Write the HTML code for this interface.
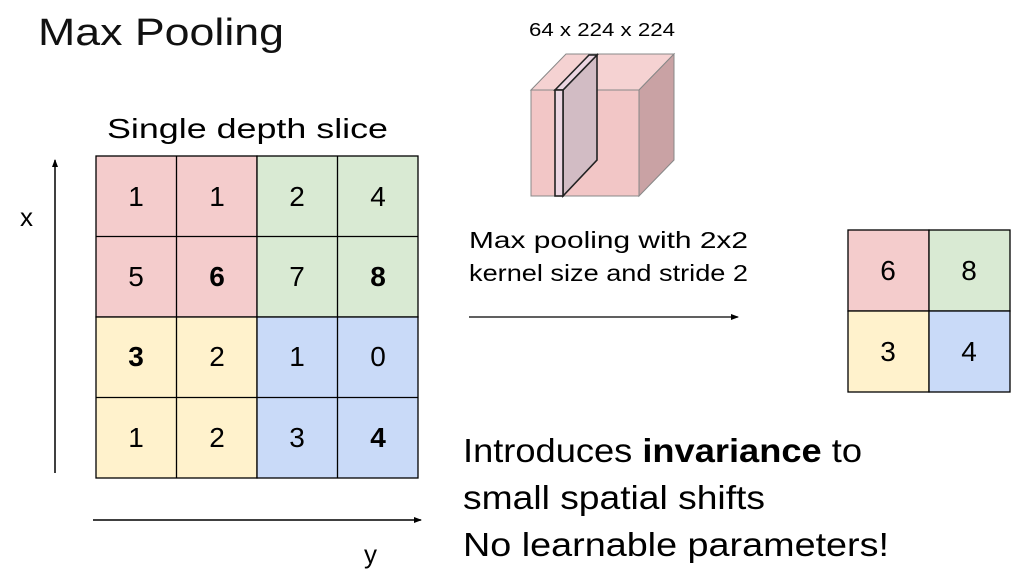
<!DOCTYPE html>
<html><head><meta charset="utf-8"><style>
html,body{margin:0;padding:0;background:#fff;}
svg{display:block;font-family:"Liberation Sans",sans-serif;}
</style></head><body>
<svg width="1026" height="579" viewBox="0 0 1026 579" xmlns="http://www.w3.org/2000/svg">
<defs><marker id="a" markerWidth="8" markerHeight="8" refX="7" refY="4" orient="auto" markerUnits="userSpaceOnUse"><path d="M0,1 L8,4 L0,7 z" fill="#000"/></marker></defs>
<text x="38" y="45" font-size="38" fill="#111" textLength="246" lengthAdjust="spacingAndGlyphs">Max Pooling</text>
<text x="107" y="138" font-size="28" textLength="281" lengthAdjust="spacingAndGlyphs">Single depth slice</text>
<text x="20" y="226" font-size="26">x</text>
<text x="364" y="563" font-size="26">y</text>
<g stroke="#000" stroke-width="1.3">
<rect x="96" y="156" width="161" height="161" fill="#f4cccc"/>
<rect x="257" y="156" width="161" height="161" fill="#d9ead3"/>
<rect x="96" y="317" width="161" height="161" fill="#fff2cc"/>
<rect x="257" y="317" width="161" height="161" fill="#c9daf8"/>
<line x1="176.5" y1="156" x2="176.5" y2="478"/><line x1="337.5" y1="156" x2="337.5" y2="478"/>
<line x1="96" y1="236.5" x2="418" y2="236.5"/><line x1="96" y1="397.5" x2="418" y2="397.5"/>
</g>
<g font-size="28" text-anchor="middle">
<text x="136" y="206">1</text><text x="217" y="206">1</text><text x="297" y="206">2</text><text x="378" y="206">4</text>
<text x="136" y="286">5</text><text x="217" y="286" font-weight="bold">6</text><text x="297" y="286">7</text><text x="378" y="286" font-weight="bold">8</text>
<text x="136" y="366" font-weight="bold">3</text><text x="217" y="366">2</text><text x="297" y="366">1</text><text x="378" y="366">0</text>
<text x="136" y="447">1</text><text x="217" y="447">2</text><text x="297" y="447">3</text><text x="378" y="447" font-weight="bold">4</text>
</g>
<line x1="55" y1="473" x2="55" y2="160" stroke="#000" stroke-width="1.5" marker-end="url(#a)"/>
<line x1="93" y1="520" x2="421" y2="520" stroke="#000" stroke-width="1.5" marker-end="url(#a)"/>
<text x="529" y="36" font-size="18" textLength="146" lengthAdjust="spacingAndGlyphs">64 x 224 x 224</text>
<g stroke="#888" stroke-width="1">
<polygon points="531,90 566,54 674,54 639,90" fill="#f5d2d2"/>
<polygon points="639,90 674,54 674,160 639,196" fill="#c9a2a4"/>
<rect x="531" y="90" width="108" height="106" fill="#f2c6c6"/>
</g>
<g stroke="#222" stroke-width="1.6">
<polygon points="563,90 597,55 597,160 563,196" fill="#d2bcc4"/>
<polygon points="555,90 589,55 597,55 563,90" fill="#ecd6e2"/>
<rect x="555" y="90" width="8" height="106" fill="#ecd6e2"/>
</g>
<text x="469" y="248" font-size="23" textLength="279" lengthAdjust="spacingAndGlyphs">Max pooling with 2x2</text>
<text x="469" y="281" font-size="23" textLength="279" lengthAdjust="spacingAndGlyphs">kernel size and stride 2</text>
<line x1="469" y1="317" x2="738" y2="317" stroke="#000" stroke-width="1.3" marker-end="url(#a)"/>
<g stroke="#000" stroke-width="1.3">
<rect x="848" y="230" width="81" height="81" fill="#f4cccc"/>
<rect x="929" y="230" width="81" height="81" fill="#d9ead3"/>
<rect x="848" y="311" width="81" height="81" fill="#fff2cc"/>
<rect x="929" y="311" width="81" height="81" fill="#c9daf8"/>
</g>
<g font-size="28" text-anchor="middle">
<text x="888" y="280">6</text><text x="969" y="280">8</text>
<text x="888" y="361">3</text><text x="969" y="361">4</text>
</g>
<g font-size="33">
<text x="463" y="462" textLength="399" lengthAdjust="spacingAndGlyphs">Introduces <tspan font-weight="bold">invariance</tspan> to</text>
<text x="463" y="509" textLength="302" lengthAdjust="spacingAndGlyphs">small spatial shifts</text>
<text x="463" y="556" textLength="426" lengthAdjust="spacingAndGlyphs">No learnable parameters!</text>
</g>
</svg>
</body></html>
